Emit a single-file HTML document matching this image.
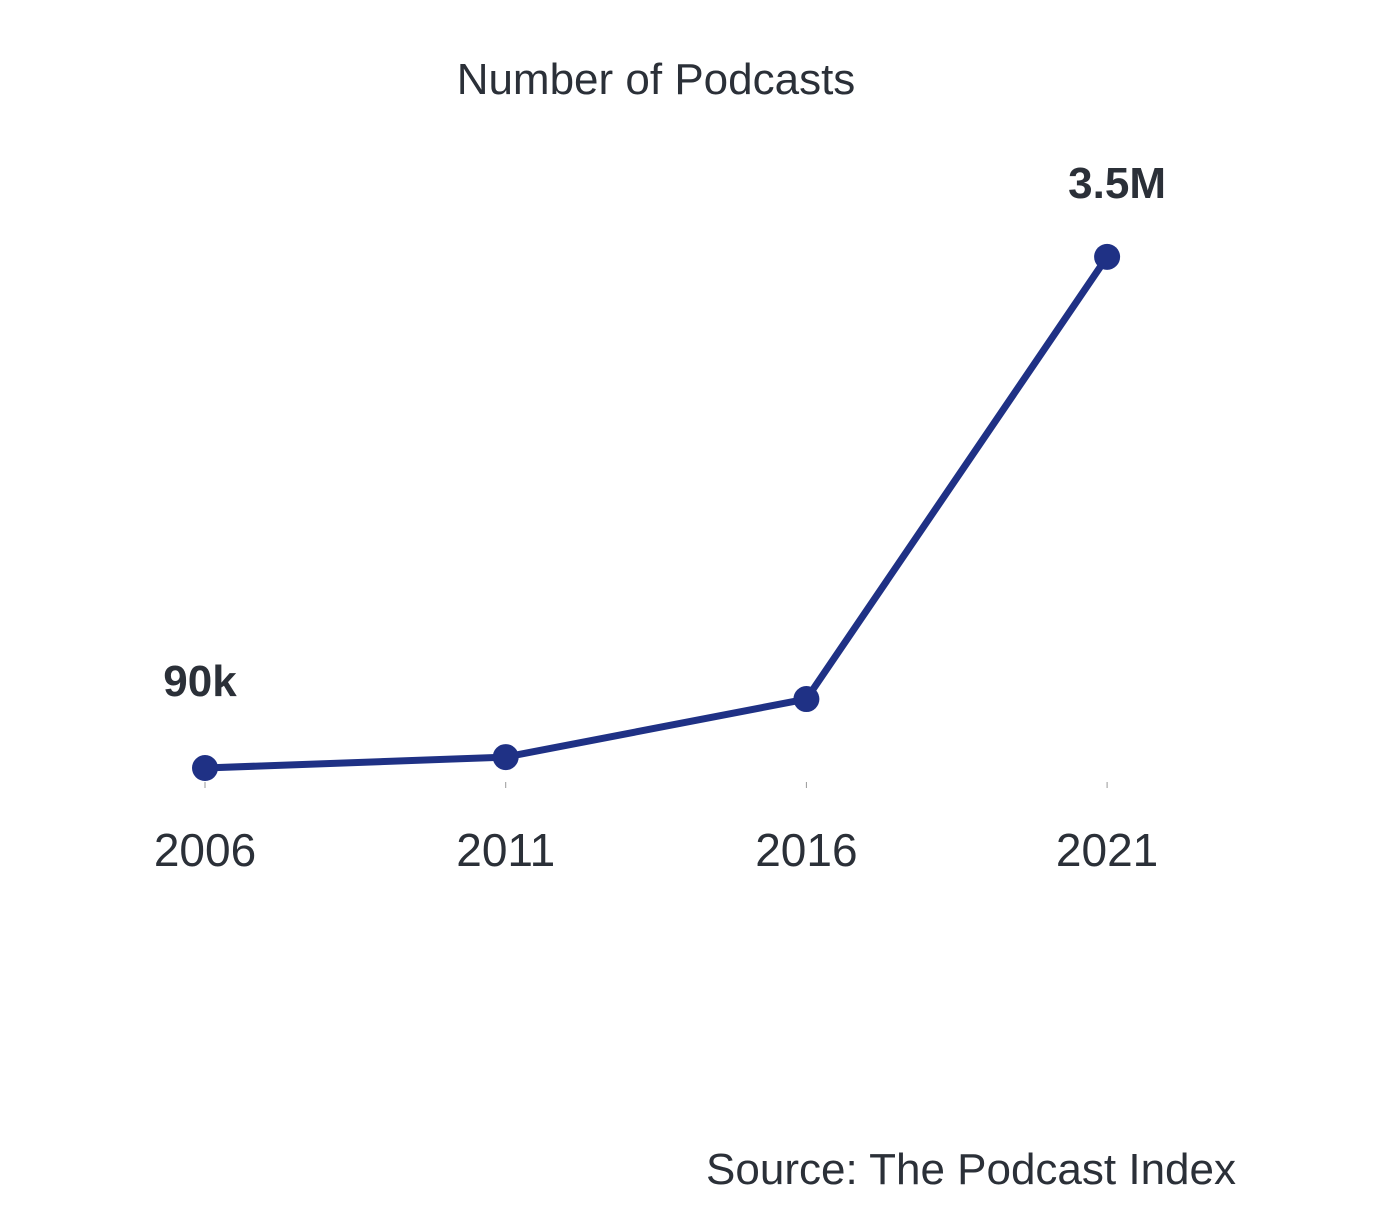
<!DOCTYPE html>
<html><head><meta charset="utf-8"><style>
body{margin:0;background:#fff;}
svg{display:block;font-family:"Liberation Sans",sans-serif;}
</style></head><body>
<svg id="chart" width="1378" height="1230">
<text x="656" y="94" text-anchor="middle" font-size="44" fill="#2b3038">Number of Podcasts</text>
<g id="ticks"></g>
<g id="series"></g>
<text x="1236" y="1184" text-anchor="end" font-size="44" fill="#2b3038">Source: The Podcast Index</text>
</svg>
<script>
const categories = ["2006","2011","2016","2021"];
const values = [0.09, 0.163, 0.55, 3.5];
const labels = ["90k", "", "", "3.5M"];
const ns="http://www.w3.org/2000/svg";
const x = i => 205 + i*300.7;
const y = v => 781.5 - v*149.9;
function mk(tag, attrs, parent){const e=document.createElementNS(ns,tag);for(const k in attrs)e.setAttribute(k,attrs[k]);parent.appendChild(e);return e;}
const ticks=document.getElementById('ticks'), series=document.getElementById('series');
categories.forEach((c,i)=>{
  const t=mk('line',{x1:x(i),x2:x(i),y1:782,y2:788,stroke:'#999','stroke-width':1},ticks);
  
  
  const l=mk('text',{x:x(i),y:866,'text-anchor':'middle','font-size':46,fill:'#2b3038'},ticks);
  l.textContent=c;
  
  
});
const p=mk('polyline',{points:values.map((v,i)=>x(i)+','+y(v)).join(' '),fill:'none',stroke:'#1f3185','stroke-width':7,'stroke-linejoin':'round'},series);


values.forEach((v,i)=>{
  const c=mk('circle',{cx:x(i),cy:y(v),r:13,fill:'#1f3185'},series);
  
  
  if(labels[i]){
    const t=mk('text',{x:x(i)+(i==0?-5:10),y:y(v)-59-(i==0?13:0),'text-anchor':'middle','font-size':44,'font-weight':'bold',fill:'#2b3038'},series);
    t.textContent=labels[i];
    
    
  }
});
</script>
</body></html>
